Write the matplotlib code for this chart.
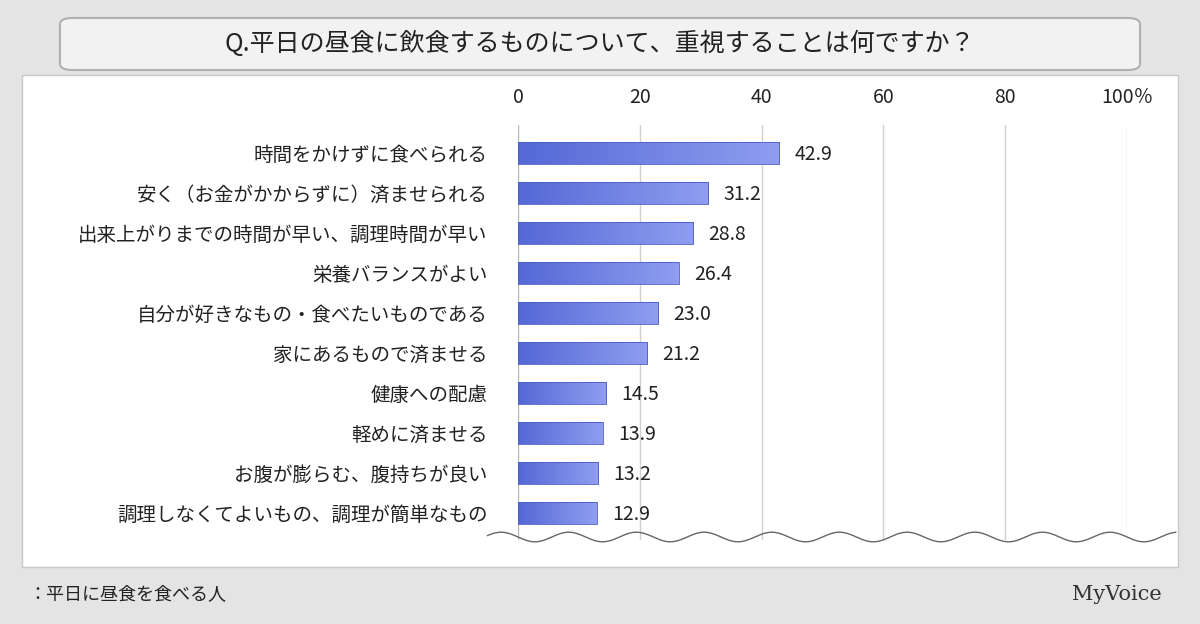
import numpy as np
import matplotlib
matplotlib.use("Agg")
import matplotlib.pyplot as plt
from matplotlib.patches import Rectangle, FancyBboxPatch

plt.rcParams["font.family"] = "Noto Sans CJK JP"

categories = ["時間をかけずに食べられる", "安く（お金がかからずに）済ませられる",
              "出来上がりまでの時間が早い、調理時間が早い", "栄養バランスがよい",
              "自分が好きなもの・食べたいものである", "家にあるもので済ませる",
              "健康への配慮", "軽めに済ませる", "お腹が膨らむ、腹持ちが良い",
              "調理しなくてよいもの、調理が簡単なもの"]
values = [42.9, 31.2, 28.8, 26.4, 23.0, 21.2, 14.5, 13.9, 13.2, 12.9]
ticks = [0, 20, 40, 60, 80, 100]
tick_labels = ["0", "20", "40", "60", "80", "100％"]

fig = plt.figure(figsize=(12, 6.24), dpi=100)
fig.patch.set_facecolor("#e4e4e4")
fig.patches.append(Rectangle((22/1200, 1-567/624), 1156/1200, 492/624, transform=fig.transFigure,
                             facecolor="white", edgecolor="#c8c8c8", lw=1, zorder=-2))
fig.patches.append(FancyBboxPatch((60/1200, 1-70/624), 1080/1200, 52/624, transform=fig.transFigure,
                                  boxstyle="round,pad=0,rounding_size=0.01", facecolor="#f2f2f2",
                                  edgecolor="#b0b0b0", lw=1.5, zorder=-2))
fig.text(0.5, 1-44/624, "Q.平日の昼食に飲食するものについて、重視することは何ですか？",
         ha="center", va="center", fontsize=18, color="#222222")
fig.text(28/1200, 1-594/624, "：平日に昼食を食べる人", ha="left", va="center", fontsize=13, color="#222222")
fig.text(1162/1200, 1-594/624, "MyVoice", ha="right", va="center", fontsize=15, color="#333333",
         family="DejaVu Serif")

ax = fig.add_axes([518/1200, 1-540/624, 609/1200, 415/624])
ax.set_zorder(1)
ax.set_facecolor("none")
ax.set_xlim(0, 100)
ax.set_ylim(9.675, -0.7)
for t in ticks:
    ax.axvline(t, color="#d0d0d0" if t else "#b8b8b8", lw=1, zorder=0)
grad = np.linspace(0, 1, 256).reshape(1, -1)
cmap = matplotlib.colors.LinearSegmentedColormap.from_list("b", ["#5468d6", "#8f9ef0"])
h = 0.55
for i, v in enumerate(values):
    ax.imshow(grad, extent=[0, v, i + h/2, i - h/2], aspect="auto", cmap=cmap, zorder=2)
    ax.add_patch(Rectangle((0, i - h/2), v, h, facecolor="none", edgecolor="#4a5cc0", lw=0.6, zorder=3))
    ax.text(v + 2.5, i + 0.05, f"{v:.1f}", va="center", ha="left", fontsize=14, color="#222222")
ax.set_xlim(0, 100)
ax.set_ylim(9.675, -0.7)
ax.set_yticks(range(len(categories)))
ax.set_yticklabels(categories, fontsize=14, color="#222222")
ax.tick_params(axis="y", length=0, pad=22)
ax.xaxis.tick_top()
ax.set_xticks(ticks)
ax.set_xticklabels(tick_labels, fontsize=14, color="#222222")
ax.tick_params(axis="x", length=0, pad=12)
for s in ax.spines.values():
    s.set_visible(False)
xw = np.linspace(-5, 108, 400)
ax.plot(xw, 9.6 + 0.12*np.sin(xw/100*2*np.pi*9), color="#666666", lw=1, clip_on=False, zorder=4)
fig.savefig("out.png", dpi=100, facecolor=fig.get_facecolor())
